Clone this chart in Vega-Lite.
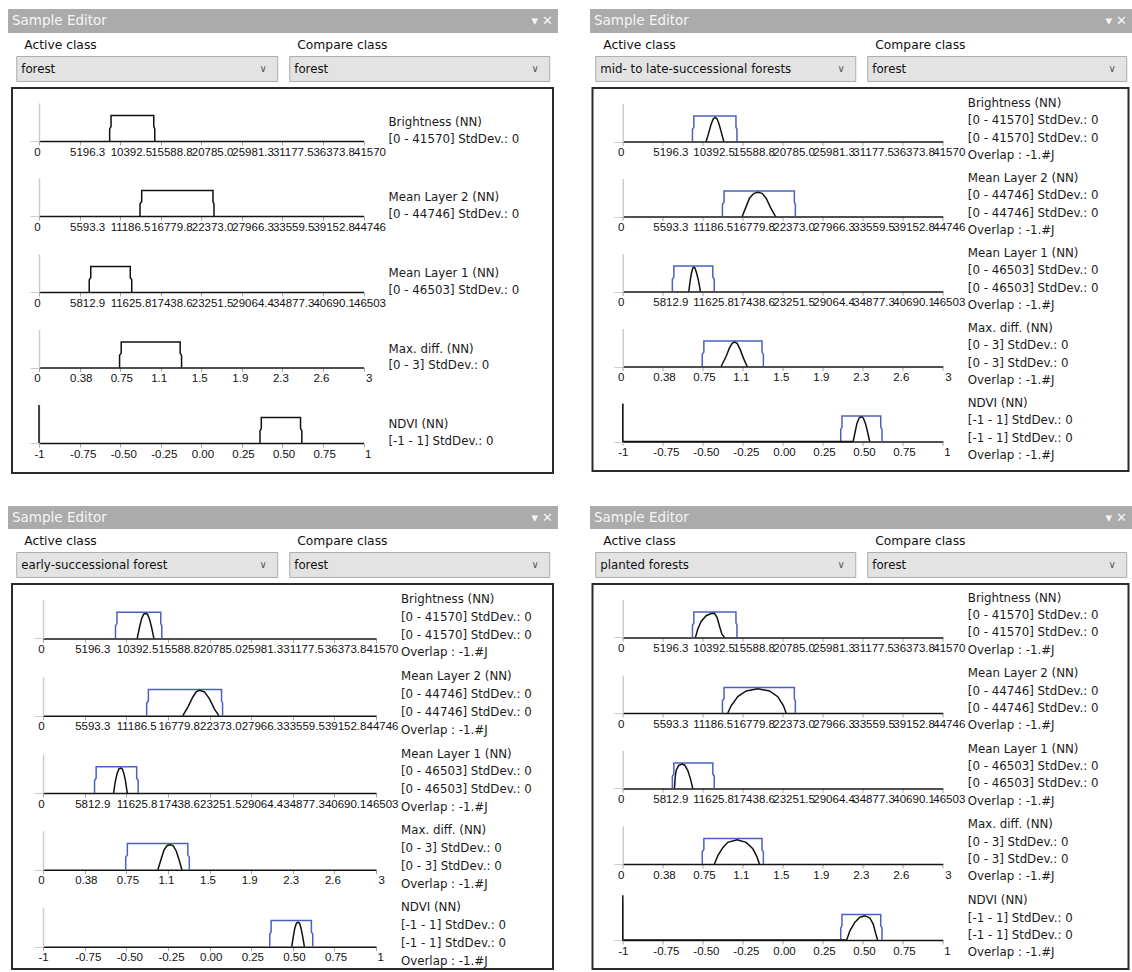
{
  "$schema": "https://vega.github.io/schema/vega-lite/v6.json",
  "background": "#ffffff",
  "padding": {"left": 8, "top": 9, "right": 0, "bottom": 0},
  "config": {
    "view": {"stroke": null},
    "font": "DejaVu Sans",
    "line": {"strokeWidth": 1.5, "strokeJoin": "miter"},
    "text": {"font": "DejaVu Sans", "align": "left", "baseline": "middle", "fontSize": 11.8, "fill": "#1a1a1a", "lineBreak": "\n"},
    "title": {"font": "DejaVu Sans", "fontSize": 12.3, "fontWeight": "normal", "color": "#111111", "anchor": "start", "offset": 5, "dx": 8},
    "axis": {"grid": false, "zindex": 1},
    "axisX": {"domainColor": "#141414", "domainWidth": 1.5, "tickColor": "#a8a8a8", "tickSize": 4, "tickWidth": 1, "labelFont": "Liberation Sans", "labelFontSize": 11.5, "labelColor": "#111111", "labelPadding": 1, "labelOverlap": false, "labelFlush": false, "labelBound": false, "labelBaseline": "top", "labelAlign": "left", "labelOffset": -10},
    "axisY": {"domainColor": "#cccccc", "domainWidth": 1.5, "tickColor": "#cccccc", "tickSize": 9, "tickWidth": 1, "labels": false}
  },
  "datasets": {
    "ui": [
      {"p": "A", "active": "forest", "compare": "forest"},
      {"p": "B", "active": "mid- to late-successional forests", "compare": "forest"},
      {"p": "C", "active": "early-successional forest", "compare": "forest"},
      {"p": "D", "active": "planted forests", "compare": "forest"}
    ],
    "forestRange": [
      {"f": "bright", "o": 0, "x": 9050, "y": 0}, {"f": "bright", "o": 1, "x": 9050, "y": 0.32}, {"f": "bright", "o": 2, "x": 9230, "y": 0.38}, {"f": "bright", "o": 3, "x": 9230, "y": 0.67},
      {"f": "bright", "o": 4, "x": 14700, "y": 0.67}, {"f": "bright", "o": 5, "x": 14700, "y": 0.38}, {"f": "bright", "o": 6, "x": 14830, "y": 0.32}, {"f": "bright", "o": 7, "x": 14830, "y": 0},
      {"f": "ml2", "o": 0, "x": 13930, "y": 0}, {"f": "ml2", "o": 1, "x": 13930, "y": 0.32}, {"f": "ml2", "o": 2, "x": 14160, "y": 0.38}, {"f": "ml2", "o": 3, "x": 14160, "y": 0.67},
      {"f": "ml2", "o": 4, "x": 23990, "y": 0.67}, {"f": "ml2", "o": 5, "x": 23990, "y": 0.38}, {"f": "ml2", "o": 6, "x": 24130, "y": 0.32}, {"f": "ml2", "o": 7, "x": 24130, "y": 0},
      {"f": "ml1", "o": 0, "x": 7200, "y": 0}, {"f": "ml1", "o": 1, "x": 7200, "y": 0.32}, {"f": "ml1", "o": 2, "x": 7420, "y": 0.38}, {"f": "ml1", "o": 3, "x": 7420, "y": 0.67},
      {"f": "ml1", "o": 4, "x": 13080, "y": 0.67}, {"f": "ml1", "o": 5, "x": 13080, "y": 0.38}, {"f": "ml1", "o": 6, "x": 13290, "y": 0.32}, {"f": "ml1", "o": 7, "x": 13290, "y": 0},
      {"f": "maxdiff", "o": 0, "x": 0.745, "y": 0}, {"f": "maxdiff", "o": 1, "x": 0.745, "y": 0.32}, {"f": "maxdiff", "o": 2, "x": 0.76, "y": 0.38}, {"f": "maxdiff", "o": 3, "x": 0.76, "y": 0.67},
      {"f": "maxdiff", "o": 4, "x": 1.305, "y": 0.67}, {"f": "maxdiff", "o": 5, "x": 1.305, "y": 0.38}, {"f": "maxdiff", "o": 6, "x": 1.318, "y": 0.32}, {"f": "maxdiff", "o": 7, "x": 1.318, "y": 0},
      {"f": "ndvi", "o": 0, "x": 0.362, "y": 0}, {"f": "ndvi", "o": 1, "x": 0.362, "y": 0.32}, {"f": "ndvi", "o": 2, "x": 0.37, "y": 0.38}, {"f": "ndvi", "o": 3, "x": 0.37, "y": 0.67},
      {"f": "ndvi", "o": 4, "x": 0.612, "y": 0.67}, {"f": "ndvi", "o": 5, "x": 0.612, "y": 0.38}, {"f": "ndvi", "o": 6, "x": 0.62, "y": 0.32}, {"f": "ndvi", "o": 7, "x": 0.62, "y": 0}
    ],
    "curves": [
      {"p": "A", "f": "ndvi", "o": 0, "x": -1, "y": 1}, {"p": "A", "f": "ndvi", "o": 1, "x": -1, "y": 0},

      {"p": "B", "f": "bright", "o": 0, "x": 10826, "y": 0}, {"p": "B", "f": "bright", "o": 1, "x": 11180, "y": 0.24}, {"p": "B", "f": "bright", "o": 2, "x": 11480, "y": 0.46},
      {"p": "B", "f": "bright", "o": 3, "x": 11760, "y": 0.6}, {"p": "B", "f": "bright", "o": 4, "x": 11995, "y": 0.635}, {"p": "B", "f": "bright", "o": 5, "x": 12230, "y": 0.6},
      {"p": "B", "f": "bright", "o": 6, "x": 12500, "y": 0.46}, {"p": "B", "f": "bright", "o": 7, "x": 12800, "y": 0.24}, {"p": "B", "f": "bright", "o": 8, "x": 13120, "y": 0},
      {"p": "B", "f": "ml2", "o": 0, "x": 16687, "y": 0}, {"p": "B", "f": "ml2", "o": 1, "x": 17246, "y": 0.26}, {"p": "B", "f": "ml2", "o": 2, "x": 17712, "y": 0.48},
      {"p": "B", "f": "ml2", "o": 3, "x": 18318, "y": 0.61}, {"p": "B", "f": "ml2", "o": 4, "x": 18877, "y": 0.635}, {"p": "B", "f": "ml2", "o": 5, "x": 19483, "y": 0.61},
      {"p": "B", "f": "ml2", "o": 6, "x": 20043, "y": 0.48}, {"p": "B", "f": "ml2", "o": 7, "x": 20649, "y": 0.24}, {"p": "B", "f": "ml2", "o": 8, "x": 21348, "y": 0},
      {"p": "B", "f": "ml1", "o": 0, "x": 9591, "y": 0}, {"p": "B", "f": "ml1", "o": 1, "x": 9800, "y": 0.3}, {"p": "B", "f": "ml1", "o": 2, "x": 10000, "y": 0.5},
      {"p": "B", "f": "ml1", "o": 3, "x": 10180, "y": 0.62}, {"p": "B", "f": "ml1", "o": 4, "x": 10318, "y": 0.64}, {"p": "B", "f": "ml1", "o": 5, "x": 10480, "y": 0.62},
      {"p": "B", "f": "ml1", "o": 6, "x": 10700, "y": 0.5}, {"p": "B", "f": "ml1", "o": 7, "x": 10980, "y": 0.3}, {"p": "B", "f": "ml1", "o": 8, "x": 11287, "y": 0},
      {"p": "B", "f": "maxdiff", "o": 0, "x": 0.922, "y": 0}, {"p": "B", "f": "maxdiff", "o": 1, "x": 0.969, "y": 0.27}, {"p": "B", "f": "maxdiff", "o": 2, "x": 1.0, "y": 0.49},
      {"p": "B", "f": "maxdiff", "o": 3, "x": 1.025, "y": 0.61}, {"p": "B", "f": "maxdiff", "o": 4, "x": 1.047, "y": 0.64}, {"p": "B", "f": "maxdiff", "o": 5, "x": 1.072, "y": 0.61},
      {"p": "B", "f": "maxdiff", "o": 6, "x": 1.1, "y": 0.45}, {"p": "B", "f": "maxdiff", "o": 7, "x": 1.131, "y": 0.22}, {"p": "B", "f": "maxdiff", "o": 8, "x": 1.166, "y": 0},
      {"p": "B", "f": "ndvi", "o": 0, "x": -1, "y": 1}, {"p": "B", "f": "ndvi", "o": 1, "x": -1, "y": 0}, {"p": "B", "f": "ndvi", "o": 2, "x": 0.44, "y": 0},
      {"p": "B", "f": "ndvi", "o": 3, "x": 0.452, "y": 0.25}, {"p": "B", "f": "ndvi", "o": 4, "x": 0.463, "y": 0.47}, {"p": "B", "f": "ndvi", "o": 5, "x": 0.477, "y": 0.62},
      {"p": "B", "f": "ndvi", "o": 6, "x": 0.49, "y": 0.65}, {"p": "B", "f": "ndvi", "o": 7, "x": 0.503, "y": 0.62}, {"p": "B", "f": "ndvi", "o": 8, "x": 0.517, "y": 0.47},
      {"p": "B", "f": "ndvi", "o": 9, "x": 0.53, "y": 0.25}, {"p": "B", "f": "ndvi", "o": 10, "x": 0.543, "y": 0},

      {"p": "C", "f": "bright", "o": 0, "x": 11764, "y": 0}, {"p": "C", "f": "bright", "o": 1, "x": 12040, "y": 0.28}, {"p": "C", "f": "bright", "o": 2, "x": 12300, "y": 0.5},
      {"p": "C", "f": "bright", "o": 3, "x": 12560, "y": 0.62}, {"p": "C", "f": "bright", "o": 4, "x": 12804, "y": 0.635}, {"p": "C", "f": "bright", "o": 5, "x": 13040, "y": 0.62},
      {"p": "C", "f": "bright", "o": 6, "x": 13290, "y": 0.5}, {"p": "C", "f": "bright", "o": 7, "x": 13560, "y": 0.28}, {"p": "C", "f": "bright", "o": 8, "x": 13843, "y": 0},
      {"p": "C", "f": "ml2", "o": 0, "x": 18793, "y": 0}, {"p": "C", "f": "ml2", "o": 1, "x": 19465, "y": 0.22}, {"p": "C", "f": "ml2", "o": 2, "x": 20136, "y": 0.48},
      {"p": "C", "f": "ml2", "o": 3, "x": 20583, "y": 0.61}, {"p": "C", "f": "ml2", "o": 4, "x": 21031, "y": 0.65}, {"p": "C", "f": "ml2", "o": 5, "x": 21702, "y": 0.61},
      {"p": "C", "f": "ml2", "o": 6, "x": 22373, "y": 0.43}, {"p": "C", "f": "ml2", "o": 7, "x": 23044, "y": 0.17}, {"p": "C", "f": "ml2", "o": 8, "x": 23626, "y": 0},
      {"p": "C", "f": "ml1", "o": 0, "x": 9859, "y": 0}, {"p": "C", "f": "ml1", "o": 1, "x": 10100, "y": 0.3}, {"p": "C", "f": "ml1", "o": 2, "x": 10350, "y": 0.5},
      {"p": "C", "f": "ml1", "o": 3, "x": 10620, "y": 0.62}, {"p": "C", "f": "ml1", "o": 4, "x": 10835, "y": 0.64}, {"p": "C", "f": "ml1", "o": 5, "x": 11060, "y": 0.62},
      {"p": "C", "f": "ml1", "o": 6, "x": 11300, "y": 0.5}, {"p": "C", "f": "ml1", "o": 7, "x": 11530, "y": 0.3}, {"p": "C", "f": "ml1", "o": 8, "x": 11765, "y": 0},
      {"p": "C", "f": "maxdiff", "o": 0, "x": 1.035, "y": 0}, {"p": "C", "f": "maxdiff", "o": 1, "x": 1.065, "y": 0.28}, {"p": "C", "f": "maxdiff", "o": 2, "x": 1.09, "y": 0.5},
      {"p": "C", "f": "maxdiff", "o": 3, "x": 1.118, "y": 0.62}, {"p": "C", "f": "maxdiff", "o": 4, "x": 1.146, "y": 0.64}, {"p": "C", "f": "maxdiff", "o": 5, "x": 1.172, "y": 0.62},
      {"p": "C", "f": "maxdiff", "o": 6, "x": 1.2, "y": 0.48}, {"p": "C", "f": "maxdiff", "o": 7, "x": 1.225, "y": 0.26}, {"p": "C", "f": "maxdiff", "o": 8, "x": 1.251, "y": 0},
      {"p": "C", "f": "ndvi", "o": 0, "x": 0.494, "y": 0}, {"p": "C", "f": "ndvi", "o": 1, "x": 0.503, "y": 0.25}, {"p": "C", "f": "ndvi", "o": 2, "x": 0.512, "y": 0.47},
      {"p": "C", "f": "ndvi", "o": 3, "x": 0.522, "y": 0.6}, {"p": "C", "f": "ndvi", "o": 4, "x": 0.532, "y": 0.63}, {"p": "C", "f": "ndvi", "o": 5, "x": 0.541, "y": 0.6},
      {"p": "C", "f": "ndvi", "o": 6, "x": 0.55, "y": 0.47}, {"p": "C", "f": "ndvi", "o": 7, "x": 0.56, "y": 0.25}, {"p": "C", "f": "ndvi", "o": 8, "x": 0.57, "y": 0},

      {"p": "D", "f": "bright", "o": 0, "x": 9440, "y": 0}, {"p": "D", "f": "bright", "o": 1, "x": 9743, "y": 0.22}, {"p": "D", "f": "bright", "o": 2, "x": 10176, "y": 0.42},
      {"p": "D", "f": "bright", "o": 3, "x": 10826, "y": 0.57}, {"p": "D", "f": "bright", "o": 4, "x": 11475, "y": 0.63}, {"p": "D", "f": "bright", "o": 5, "x": 11908, "y": 0.635},
      {"p": "D", "f": "bright", "o": 6, "x": 12255, "y": 0.52}, {"p": "D", "f": "bright", "o": 7, "x": 12557, "y": 0.3}, {"p": "D", "f": "bright", "o": 8, "x": 12861, "y": 0.09},
      {"p": "D", "f": "bright", "o": 9, "x": 13207, "y": 0},
      {"p": "D", "f": "ml2", "o": 0, "x": 14683, "y": 0}, {"p": "D", "f": "ml2", "o": 1, "x": 15149, "y": 0.19}, {"p": "D", "f": "ml2", "o": 2, "x": 16081, "y": 0.43},
      {"p": "D", "f": "ml2", "o": 3, "x": 17246, "y": 0.58}, {"p": "D", "f": "ml2", "o": 4, "x": 18877, "y": 0.64}, {"p": "D", "f": "ml2", "o": 5, "x": 20509, "y": 0.58},
      {"p": "D", "f": "ml2", "o": 6, "x": 21674, "y": 0.43}, {"p": "D", "f": "ml2", "o": 7, "x": 22467, "y": 0.19}, {"p": "D", "f": "ml2", "o": 8, "x": 22839, "y": 0},
      {"p": "D", "f": "ml1", "o": 0, "x": 7508, "y": 0}, {"p": "D", "f": "ml1", "o": 1, "x": 7620, "y": 0.3}, {"p": "D", "f": "ml1", "o": 2, "x": 7750, "y": 0.47},
      {"p": "D", "f": "ml1", "o": 3, "x": 8100, "y": 0.6}, {"p": "D", "f": "ml1", "o": 4, "x": 8600, "y": 0.64}, {"p": "D", "f": "ml1", "o": 5, "x": 9000, "y": 0.61},
      {"p": "D", "f": "ml1", "o": 6, "x": 9445, "y": 0.47}, {"p": "D", "f": "ml1", "o": 7, "x": 9800, "y": 0.27}, {"p": "D", "f": "ml1", "o": 8, "x": 10173, "y": 0},
      {"p": "D", "f": "maxdiff", "o": 0, "x": 0.859, "y": 0}, {"p": "D", "f": "maxdiff", "o": 1, "x": 0.891, "y": 0.22}, {"p": "D", "f": "maxdiff", "o": 2, "x": 0.9375, "y": 0.43},
      {"p": "D", "f": "maxdiff", "o": 3, "x": 0.984, "y": 0.57}, {"p": "D", "f": "maxdiff", "o": 4, "x": 1.072, "y": 0.64}, {"p": "D", "f": "maxdiff", "o": 5, "x": 1.156, "y": 0.57},
      {"p": "D", "f": "maxdiff", "o": 6, "x": 1.219, "y": 0.4}, {"p": "D", "f": "maxdiff", "o": 7, "x": 1.256, "y": 0.2}, {"p": "D", "f": "maxdiff", "o": 8, "x": 1.281, "y": 0},
      {"p": "D", "f": "ndvi", "o": 0, "x": -1, "y": 1.18}, {"p": "D", "f": "ndvi", "o": 1, "x": -1, "y": 0}, {"p": "D", "f": "ndvi", "o": 2, "x": 0.399, "y": 0},
      {"p": "D", "f": "ndvi", "o": 3, "x": 0.42, "y": 0.25}, {"p": "D", "f": "ndvi", "o": 4, "x": 0.451, "y": 0.47}, {"p": "D", "f": "ndvi", "o": 5, "x": 0.482, "y": 0.6},
      {"p": "D", "f": "ndvi", "o": 6, "x": 0.513, "y": 0.64}, {"p": "D", "f": "ndvi", "o": 7, "x": 0.544, "y": 0.58}, {"p": "D", "f": "ndvi", "o": 8, "x": 0.565, "y": 0.42},
      {"p": "D", "f": "ndvi", "o": 9, "x": 0.579, "y": 0.2}, {"p": "D", "f": "ndvi", "o": 10, "x": 0.592, "y": 0}
    ],
    "info": [
      {"p": "A", "f": "bright", "t": "Brightness (NN)\n[0 - 41570] StdDev.: 0"},
      {"p": "A", "f": "ml2", "t": "Mean Layer 2 (NN)\n[0 - 44746] StdDev.: 0"},
      {"p": "A", "f": "ml1", "t": "Mean Layer 1 (NN)\n[0 - 46503] StdDev.: 0"},
      {"p": "A", "f": "maxdiff", "t": "Max. diff. (NN)\n[0 - 3] StdDev.: 0"},
      {"p": "A", "f": "ndvi", "t": "NDVI (NN)\n[-1 - 1] StdDev.: 0"},
      {"p": "B", "f": "bright", "t": "Brightness (NN)\n[0 - 41570] StdDev.: 0\n[0 - 41570] StdDev.: 0\nOverlap : -1.#J"},
      {"p": "B", "f": "ml2", "t": "Mean Layer 2 (NN)\n[0 - 44746] StdDev.: 0\n[0 - 44746] StdDev.: 0\nOverlap : -1.#J"},
      {"p": "B", "f": "ml1", "t": "Mean Layer 1 (NN)\n[0 - 46503] StdDev.: 0\n[0 - 46503] StdDev.: 0\nOverlap : -1.#J"},
      {"p": "B", "f": "maxdiff", "t": "Max. diff. (NN)\n[0 - 3] StdDev.: 0\n[0 - 3] StdDev.: 0\nOverlap : -1.#J"},
      {"p": "B", "f": "ndvi", "t": "NDVI (NN)\n[-1 - 1] StdDev.: 0\n[-1 - 1] StdDev.: 0\nOverlap : -1.#J"},
      {"p": "C", "f": "bright", "t": "Brightness (NN)\n[0 - 41570] StdDev.: 0\n[0 - 41570] StdDev.: 0\nOverlap : -1.#J"},
      {"p": "C", "f": "ml2", "t": "Mean Layer 2 (NN)\n[0 - 44746] StdDev.: 0\n[0 - 44746] StdDev.: 0\nOverlap : -1.#J"},
      {"p": "C", "f": "ml1", "t": "Mean Layer 1 (NN)\n[0 - 46503] StdDev.: 0\n[0 - 46503] StdDev.: 0\nOverlap : -1.#J"},
      {"p": "C", "f": "maxdiff", "t": "Max. diff. (NN)\n[0 - 3] StdDev.: 0\n[0 - 3] StdDev.: 0\nOverlap : -1.#J"},
      {"p": "C", "f": "ndvi", "t": "NDVI (NN)\n[-1 - 1] StdDev.: 0\n[-1 - 1] StdDev.: 0\nOverlap : -1.#J"},
      {"p": "D", "f": "bright", "t": "Brightness (NN)\n[0 - 41570] StdDev.: 0\n[0 - 41570] StdDev.: 0\nOverlap : -1.#J"},
      {"p": "D", "f": "ml2", "t": "Mean Layer 2 (NN)\n[0 - 44746] StdDev.: 0\n[0 - 44746] StdDev.: 0\nOverlap : -1.#J"},
      {"p": "D", "f": "ml1", "t": "Mean Layer 1 (NN)\n[0 - 46503] StdDev.: 0\n[0 - 46503] StdDev.: 0\nOverlap : -1.#J"},
      {"p": "D", "f": "maxdiff", "t": "Max. diff. (NN)\n[0 - 3] StdDev.: 0\n[0 - 3] StdDev.: 0\nOverlap : -1.#J"},
      {"p": "D", "f": "ndvi", "t": "NDVI (NN)\n[-1 - 1] StdDev.: 0\n[-1 - 1] StdDev.: 0\nOverlap : -1.#J"}
    ]
  },
  "spacing": 32,
  "vconcat": [
    {
      "spacing": 32,
      "hconcat": [
        {
          "spacing": 5,
          "center": true,
          "vconcat": [
            {
              "width": 550, "height": 24,
              "view": {"fill": "#ababab", "stroke": null},
              "data": {"name": "ui"},
              "transform": [{"filter": "datum.p == 'A'"}],
              "layer": [
                {"mark": {"type": "text", "text": "Sample Editor", "x": 4, "y": 12, "fontSize": 13.5, "fill": "#f5f5f5"}, "encoding": {}},
                {"mark": {"type": "text", "text": "▾   ✕", "x": "width", "dx": -5, "y": 12, "align": "right", "fontSize": 13, "fill": "#f5f5f5"}, "encoding": {}}
              ]
            },
            {
              "spacing": 10,
              "hconcat": [
                {
                  "width": 261, "height": 25,
                  "view": {"fill": "#e3e3e3", "stroke": "#adadad"},
                  "title": {"text": "Active class"},
                  "data": {"name": "ui"},
                  "transform": [{"filter": "datum.p == 'A'"}],
                  "layer": [
                    {"mark": {"type": "text", "x": 5, "y": 12.5, "fontSize": 11.8, "fill": "#111111"}, "encoding": {"text": {"field": "active"}}},
                    {"mark": {"type": "text", "text": "∨", "x": "width", "dx": -14, "y": 12.5, "align": "center", "fontSize": 10, "fill": "#555555"}, "encoding": {}}
                  ]
                },
                {
                  "width": 260, "height": 25,
                  "view": {"fill": "#e3e3e3", "stroke": "#adadad"},
                  "title": {"text": "Compare class"},
                  "data": {"name": "ui"},
                  "transform": [{"filter": "datum.p == 'A'"}],
                  "layer": [
                    {"mark": {"type": "text", "x": 5, "y": 12.5, "fontSize": 11.8, "fill": "#111111"}, "encoding": {"text": {"field": "compare"}}},
                    {"mark": {"type": "text", "text": "∨", "x": "width", "dx": -14, "y": 12.5, "align": "center", "fontSize": 10, "fill": "#555555"}, "encoding": {}}
                  ]
                }
              ]
            },
            {
              "width": 541, "height": 385,
              "view": {"fill": "#ffffff", "stroke": "#2b2b2b", "strokeWidth": 2},
              "resolve": {"scale": {"x": "independent", "y": "independent"}, "axis": {"x": "independent", "y": "independent"}},
              "layer": [
                {"data": {"name": "forestRange"}, "transform": [{"filter": "datum.f == 'bright'"}], "mark": {"type": "line", "stroke": "#111111"},
                 "encoding": {
                   "x": {"field": "x", "type": "quantitative", "scale": {"domain": [0, 41570], "range": [27, 351.5], "nice": false},
                         "axis": {"orient": "bottom", "offset": -332, "title": null, "values": [0, 5196.25, 10392.5, 15588.75, 20785, 25981.25, 31177.5, 36373.75, 41570], "labelExpr": "datum.value == 0 || datum.value == 41570 ? format(datum.value, 'd') : format(datum.value, '.1f')", "labelAlign": {"condition": {"test": "datum.value == 0", "value": "center"}, "value": "left"}, "labelOffset": {"condition": {"test": "datum.value == 0", "value": -2}, "value": -10}}},
                   "y": {"field": "y", "type": "quantitative", "scale": {"domain": [0, 1], "range": [53, 15], "nice": false}, "axis": {"orient": "left", "offset": -27, "title": null, "values": [0]}},
                   "order": {"field": "o", "type": "quantitative"}}},
                {"data": {"name": "info"}, "transform": [{"filter": "datum.p == 'A' && datum.f == 'bright'"}], "mark": {"type": "text", "dx": 25, "lineHeight": 16.7},
                 "encoding": {"x": {"datum": 41570, "type": "quantitative", "scale": {"domain": [0, 41570], "range": [27, 351.5], "nice": false}, "axis": null}, "y": {"datum": 0.5, "type": "quantitative", "scale": {"domain": [0, 1], "range": [53, 15], "nice": false}, "axis": null}, "text": {"field": "t"}}},

                {"data": {"name": "forestRange"}, "transform": [{"filter": "datum.f == 'ml2'"}], "mark": {"type": "line", "stroke": "#111111"},
                 "encoding": {
                   "x": {"field": "x", "type": "quantitative", "scale": {"domain": [0, 44746], "range": [27, 351.5], "nice": false},
                         "axis": {"orient": "bottom", "offset": -257, "title": null, "values": [0, 5593.25, 11186.5, 16779.75, 22373, 27966.25, 33559.5, 39152.75, 44746], "labelExpr": "datum.value == 0 || datum.value == 44746 ? format(datum.value, 'd') : format(datum.value, '.1f')", "labelAlign": {"condition": {"test": "datum.value == 0", "value": "center"}, "value": "left"}, "labelOffset": {"condition": {"test": "datum.value == 0", "value": -2}, "value": -10}}},
                   "y": {"field": "y", "type": "quantitative", "scale": {"domain": [0, 1], "range": [128, 90], "nice": false}, "axis": {"orient": "left", "offset": -27, "title": null, "values": [0]}},
                   "order": {"field": "o", "type": "quantitative"}}},
                {"data": {"name": "info"}, "transform": [{"filter": "datum.p == 'A' && datum.f == 'ml2'"}], "mark": {"type": "text", "dx": 25, "lineHeight": 16.7},
                 "encoding": {"x": {"datum": 44746, "type": "quantitative", "scale": {"domain": [0, 44746], "range": [27, 351.5], "nice": false}, "axis": null}, "y": {"datum": 0.5, "type": "quantitative", "scale": {"domain": [0, 1], "range": [128, 90], "nice": false}, "axis": null}, "text": {"field": "t"}}},

                {"data": {"name": "forestRange"}, "transform": [{"filter": "datum.f == 'ml1'"}], "mark": {"type": "line", "stroke": "#111111"},
                 "encoding": {
                   "x": {"field": "x", "type": "quantitative", "scale": {"domain": [0, 46503], "range": [27, 351.5], "nice": false},
                         "axis": {"orient": "bottom", "offset": -181, "title": null, "values": [0, 5812.875, 11625.75, 17438.625, 23251.5, 29064.375, 34877.25, 40690.125, 46503], "labelExpr": "datum.value == 0 || datum.value == 46503 ? format(datum.value, 'd') : format(datum.value, '.1f')", "labelAlign": {"condition": {"test": "datum.value == 0", "value": "center"}, "value": "left"}, "labelOffset": {"condition": {"test": "datum.value == 0", "value": -2}, "value": -10}}},
                   "y": {"field": "y", "type": "quantitative", "scale": {"domain": [0, 1], "range": [204, 166], "nice": false}, "axis": {"orient": "left", "offset": -27, "title": null, "values": [0]}},
                   "order": {"field": "o", "type": "quantitative"}}},
                {"data": {"name": "info"}, "transform": [{"filter": "datum.p == 'A' && datum.f == 'ml1'"}], "mark": {"type": "text", "dx": 25, "lineHeight": 16.7},
                 "encoding": {"x": {"datum": 46503, "type": "quantitative", "scale": {"domain": [0, 46503], "range": [27, 351.5], "nice": false}, "axis": null}, "y": {"datum": 0.5, "type": "quantitative", "scale": {"domain": [0, 1], "range": [204, 166], "nice": false}, "axis": null}, "text": {"field": "t"}}},

                {"data": {"name": "forestRange"}, "transform": [{"filter": "datum.f == 'maxdiff'"}], "mark": {"type": "line", "stroke": "#111111"},
                 "encoding": {
                   "x": {"field": "x", "type": "quantitative", "scale": {"domain": [0, 3], "range": [27, 351.5], "nice": false},
                         "axis": {"orient": "bottom", "offset": -105.5, "title": null, "values": [0, 0.375, 0.75, 1.125, 1.5, 1.875, 2.25, 2.625, 3], "labelExpr": "datum.value == 0 || datum.value == 3 ? format(datum.value, 'd') : format(datum.value, '.2')", "labelAlign": {"condition": {"test": "datum.value == 0", "value": "center"}, "value": "left"}, "labelOffset": {"condition": [{"test": "datum.value == 0", "value": -2}, {"test": "datum.value == 3", "value": 2}], "value": -10}}},
                   "y": {"field": "y", "type": "quantitative", "scale": {"domain": [0, 1], "range": [279.5, 241.5], "nice": false}, "axis": {"orient": "left", "offset": -27, "title": null, "values": [0]}},
                   "order": {"field": "o", "type": "quantitative"}}},
                {"data": {"name": "info"}, "transform": [{"filter": "datum.p == 'A' && datum.f == 'maxdiff'"}], "mark": {"type": "text", "dx": 25, "lineHeight": 16.7},
                 "encoding": {"x": {"datum": 3, "type": "quantitative", "scale": {"domain": [0, 3], "range": [27, 351.5], "nice": false}, "axis": null}, "y": {"datum": 0.5, "type": "quantitative", "scale": {"domain": [0, 1], "range": [279.5, 241.5], "nice": false}, "axis": null}, "text": {"field": "t"}}},

                {"data": {"name": "forestRange"}, "transform": [{"filter": "datum.f == 'ndvi'"}], "mark": {"type": "line", "stroke": "#111111"},
                 "encoding": {
                   "x": {"field": "x", "type": "quantitative", "scale": {"domain": [-1, 1], "range": [27, 351.5], "nice": false},
                         "axis": {"orient": "bottom", "offset": -30, "title": null, "values": [-1, -0.75, -0.5, -0.25, 0, 0.25, 0.5, 0.75, 1], "labelExpr": "datum.value == -1 ? '-1' : datum.value == 1 ? '1' : replace(format(datum.value, '.2f'), '\u2212', '-')", "labelAlign": {"condition": {"test": "datum.value == -1", "value": "center"}, "value": "left"}, "labelOffset": {"condition": [{"test": "datum.value == -1", "value": 0}, {"test": "datum.value == 1", "value": 1}], "value": -10}}},
                   "y": {"field": "y", "type": "quantitative", "scale": {"domain": [0, 1], "range": [355, 317], "nice": false}, "axis": {"orient": "left", "offset": -27, "title": null, "values": [0]}},
                   "order": {"field": "o", "type": "quantitative"}}},
                {"data": {"name": "curves"}, "transform": [{"filter": "datum.p == 'A' && datum.f == 'ndvi'"}], "mark": {"type": "line", "stroke": "#111111"},
                 "encoding": {"x": {"field": "x", "type": "quantitative", "scale": {"domain": [-1, 1], "range": [27, 351.5], "nice": false}, "axis": null}, "y": {"field": "y", "type": "quantitative", "scale": {"domain": [0, 1], "range": [355, 317], "nice": false}, "axis": null}, "order": {"field": "o", "type": "quantitative"}}},
                {"data": {"name": "info"}, "transform": [{"filter": "datum.p == 'A' && datum.f == 'ndvi'"}], "mark": {"type": "text", "dx": 25, "lineHeight": 16.7},
                 "encoding": {"x": {"datum": 1, "type": "quantitative", "scale": {"domain": [-1, 1], "range": [27, 351.5], "nice": false}, "axis": null}, "y": {"datum": 0.5, "type": "quantitative", "scale": {"domain": [0, 1], "range": [355, 317], "nice": false}, "axis": null}, "text": {"field": "t"}}}
              ]
            }
          ]
        },
        {
          "spacing": 5,
          "center": true,
          "vconcat": [
            {
              "width": 542, "height": 24,
              "view": {"fill": "#ababab", "stroke": null},
              "data": {"name": "ui"},
              "transform": [{"filter": "datum.p == 'B'"}],
              "layer": [
                {"mark": {"type": "text", "text": "Sample Editor", "x": 4, "y": 12, "fontSize": 13.5, "fill": "#f5f5f5"}, "encoding": {}},
                {"mark": {"type": "text", "text": "▾   ✕", "x": "width", "dx": -5, "y": 12, "align": "right", "fontSize": 13, "fill": "#f5f5f5"}, "encoding": {}}
              ]
            },
            {
              "spacing": 10,
              "hconcat": [
                {
                  "width": 260, "height": 25,
                  "view": {"fill": "#e3e3e3", "stroke": "#adadad"},
                  "title": {"text": "Active class"},
                  "data": {"name": "ui"},
                  "transform": [{"filter": "datum.p == 'B'"}],
                  "layer": [
                    {"mark": {"type": "text", "x": 5, "y": 12.5, "fontSize": 11.8, "fill": "#111111"}, "encoding": {"text": {"field": "active"}}},
                    {"mark": {"type": "text", "text": "∨", "x": "width", "dx": -14, "y": 12.5, "align": "center", "fontSize": 10, "fill": "#555555"}, "encoding": {}}
                  ]
                },
                {
                  "width": 259, "height": 25,
                  "view": {"fill": "#e3e3e3", "stroke": "#adadad"},
                  "title": {"text": "Compare class"},
                  "data": {"name": "ui"},
                  "transform": [{"filter": "datum.p == 'B'"}],
                  "layer": [
                    {"mark": {"type": "text", "x": 5, "y": 12.5, "fontSize": 11.8, "fill": "#111111"}, "encoding": {"text": {"field": "compare"}}},
                    {"mark": {"type": "text", "text": "∨", "x": "width", "dx": -14, "y": 12.5, "align": "center", "fontSize": 10, "fill": "#555555"}, "encoding": {}}
                  ]
                }
              ]
            },
            {
              "width": 536, "height": 383,
              "view": {"fill": "#ffffff", "stroke": "#2b2b2b", "strokeWidth": 2},
              "resolve": {"scale": {"x": "independent", "y": "independent"}, "axis": {"x": "independent", "y": "independent"}},
              "layer": [
                {"data": {"name": "forestRange"}, "transform": [{"filter": "datum.f == 'bright'"}], "mark": {"type": "line", "stroke": "#4b60c2"},
                 "encoding": {
                   "x": {"field": "x", "type": "quantitative", "scale": {"domain": [0, 41570], "range": [30.3, 350.3], "nice": false},
                         "axis": {"orient": "bottom", "offset": -329.5, "title": null, "values": [0, 5196.25, 10392.5, 15588.75, 20785, 25981.25, 31177.5, 36373.75, 41570], "labelExpr": "datum.value == 0 || datum.value == 41570 ? format(datum.value, 'd') : format(datum.value, '.1f')", "labelAlign": {"condition": {"test": "datum.value == 0", "value": "center"}, "value": "left"}, "labelOffset": {"condition": {"test": "datum.value == 0", "value": -2}, "value": -10}}},
                   "y": {"field": "y", "type": "quantitative", "scale": {"domain": [0, 1], "range": [53.5, 15.5], "nice": false}, "axis": {"orient": "left", "offset": -30.3, "title": null, "values": [0]}},
                   "order": {"field": "o", "type": "quantitative"}}},
                {"data": {"name": "curves"}, "transform": [{"filter": "datum.p == 'B' && datum.f == 'bright'"}], "mark": {"type": "line", "stroke": "#111111"},
                 "encoding": {"x": {"field": "x", "type": "quantitative", "scale": {"domain": [0, 41570], "range": [30.3, 350.3], "nice": false}, "axis": null}, "y": {"field": "y", "type": "quantitative", "scale": {"domain": [0, 1], "range": [53.5, 15.5], "nice": false}, "axis": null}, "order": {"field": "o", "type": "quantitative"}}},
                {"data": {"name": "info"}, "transform": [{"filter": "datum.p == 'B' && datum.f == 'bright'"}], "mark": {"type": "text", "dx": 25, "lineHeight": 17.3},
                 "encoding": {"x": {"datum": 41570, "type": "quantitative", "scale": {"domain": [0, 41570], "range": [30.3, 350.3], "nice": false}, "axis": null}, "y": {"datum": 1.01, "type": "quantitative", "scale": {"domain": [0, 1], "range": [53.5, 15.5], "nice": false}, "axis": null}, "text": {"field": "t"}}},

                {"data": {"name": "forestRange"}, "transform": [{"filter": "datum.f == 'ml2'"}], "mark": {"type": "line", "stroke": "#4b60c2"},
                 "encoding": {
                   "x": {"field": "x", "type": "quantitative", "scale": {"domain": [0, 44746], "range": [30.3, 350.3], "nice": false},
                         "axis": {"orient": "bottom", "offset": -254.5, "title": null, "values": [0, 5593.25, 11186.5, 16779.75, 22373, 27966.25, 33559.5, 39152.75, 44746], "labelExpr": "datum.value == 0 || datum.value == 44746 ? format(datum.value, 'd') : format(datum.value, '.1f')", "labelAlign": {"condition": {"test": "datum.value == 0", "value": "center"}, "value": "left"}, "labelOffset": {"condition": {"test": "datum.value == 0", "value": -2}, "value": -10}}},
                   "y": {"field": "y", "type": "quantitative", "scale": {"domain": [0, 1], "range": [128.5, 90.5], "nice": false}, "axis": {"orient": "left", "offset": -30.3, "title": null, "values": [0]}},
                   "order": {"field": "o", "type": "quantitative"}}},
                {"data": {"name": "curves"}, "transform": [{"filter": "datum.p == 'B' && datum.f == 'ml2'"}], "mark": {"type": "line", "stroke": "#111111"},
                 "encoding": {"x": {"field": "x", "type": "quantitative", "scale": {"domain": [0, 44746], "range": [30.3, 350.3], "nice": false}, "axis": null}, "y": {"field": "y", "type": "quantitative", "scale": {"domain": [0, 1], "range": [128.5, 90.5], "nice": false}, "axis": null}, "order": {"field": "o", "type": "quantitative"}}},
                {"data": {"name": "info"}, "transform": [{"filter": "datum.p == 'B' && datum.f == 'ml2'"}], "mark": {"type": "text", "dx": 25, "lineHeight": 17.3},
                 "encoding": {"x": {"datum": 44746, "type": "quantitative", "scale": {"domain": [0, 44746], "range": [30.3, 350.3], "nice": false}, "axis": null}, "y": {"datum": 1.01, "type": "quantitative", "scale": {"domain": [0, 1], "range": [128.5, 90.5], "nice": false}, "axis": null}, "text": {"field": "t"}}},

                {"data": {"name": "forestRange"}, "transform": [{"filter": "datum.f == 'ml1'"}], "mark": {"type": "line", "stroke": "#4b60c2"},
                 "encoding": {
                   "x": {"field": "x", "type": "quantitative", "scale": {"domain": [0, 46503], "range": [30.3, 350.3], "nice": false},
                         "axis": {"orient": "bottom", "offset": -179.5, "title": null, "values": [0, 5812.875, 11625.75, 17438.625, 23251.5, 29064.375, 34877.25, 40690.125, 46503], "labelExpr": "datum.value == 0 || datum.value == 46503 ? format(datum.value, 'd') : format(datum.value, '.1f')", "labelAlign": {"condition": {"test": "datum.value == 0", "value": "center"}, "value": "left"}, "labelOffset": {"condition": {"test": "datum.value == 0", "value": -2}, "value": -10}}},
                   "y": {"field": "y", "type": "quantitative", "scale": {"domain": [0, 1], "range": [203.5, 165.5], "nice": false}, "axis": {"orient": "left", "offset": -30.3, "title": null, "values": [0]}},
                   "order": {"field": "o", "type": "quantitative"}}},
                {"data": {"name": "curves"}, "transform": [{"filter": "datum.p == 'B' && datum.f == 'ml1'"}], "mark": {"type": "line", "stroke": "#111111"},
                 "encoding": {"x": {"field": "x", "type": "quantitative", "scale": {"domain": [0, 46503], "range": [30.3, 350.3], "nice": false}, "axis": null}, "y": {"field": "y", "type": "quantitative", "scale": {"domain": [0, 1], "range": [203.5, 165.5], "nice": false}, "axis": null}, "order": {"field": "o", "type": "quantitative"}}},
                {"data": {"name": "info"}, "transform": [{"filter": "datum.p == 'B' && datum.f == 'ml1'"}], "mark": {"type": "text", "dx": 25, "lineHeight": 17.3},
                 "encoding": {"x": {"datum": 46503, "type": "quantitative", "scale": {"domain": [0, 46503], "range": [30.3, 350.3], "nice": false}, "axis": null}, "y": {"datum": 1.01, "type": "quantitative", "scale": {"domain": [0, 1], "range": [203.5, 165.5], "nice": false}, "axis": null}, "text": {"field": "t"}}},

                {"data": {"name": "forestRange"}, "transform": [{"filter": "datum.f == 'maxdiff'"}], "mark": {"type": "line", "stroke": "#4b60c2"},
                 "encoding": {
                   "x": {"field": "x", "type": "quantitative", "scale": {"domain": [0, 3], "range": [30.3, 350.3], "nice": false},
                         "axis": {"orient": "bottom", "offset": -104.5, "title": null, "values": [0, 0.375, 0.75, 1.125, 1.5, 1.875, 2.25, 2.625, 3], "labelExpr": "datum.value == 0 || datum.value == 3 ? format(datum.value, 'd') : format(datum.value, '.2')", "labelAlign": {"condition": {"test": "datum.value == 0", "value": "center"}, "value": "left"}, "labelOffset": {"condition": [{"test": "datum.value == 0", "value": -2}, {"test": "datum.value == 3", "value": 2}], "value": -10}}},
                   "y": {"field": "y", "type": "quantitative", "scale": {"domain": [0, 1], "range": [278.5, 240.5], "nice": false}, "axis": {"orient": "left", "offset": -30.3, "title": null, "values": [0]}},
                   "order": {"field": "o", "type": "quantitative"}}},
                {"data": {"name": "curves"}, "transform": [{"filter": "datum.p == 'B' && datum.f == 'maxdiff'"}], "mark": {"type": "line", "stroke": "#111111"},
                 "encoding": {"x": {"field": "x", "type": "quantitative", "scale": {"domain": [0, 3], "range": [30.3, 350.3], "nice": false}, "axis": null}, "y": {"field": "y", "type": "quantitative", "scale": {"domain": [0, 1], "range": [278.5, 240.5], "nice": false}, "axis": null}, "order": {"field": "o", "type": "quantitative"}}},
                {"data": {"name": "info"}, "transform": [{"filter": "datum.p == 'B' && datum.f == 'maxdiff'"}], "mark": {"type": "text", "dx": 25, "lineHeight": 17.3},
                 "encoding": {"x": {"datum": 3, "type": "quantitative", "scale": {"domain": [0, 3], "range": [30.3, 350.3], "nice": false}, "axis": null}, "y": {"datum": 1.01, "type": "quantitative", "scale": {"domain": [0, 1], "range": [278.5, 240.5], "nice": false}, "axis": null}, "text": {"field": "t"}}},

                {"data": {"name": "forestRange"}, "transform": [{"filter": "datum.f == 'ndvi'"}], "mark": {"type": "line", "stroke": "#4b60c2"},
                 "encoding": {
                   "x": {"field": "x", "type": "quantitative", "scale": {"domain": [-1, 1], "range": [30.3, 350.3], "nice": false},
                         "axis": {"orient": "bottom", "offset": -29.5, "title": null, "values": [-1, -0.75, -0.5, -0.25, 0, 0.25, 0.5, 0.75, 1], "labelExpr": "datum.value == -1 ? '-1' : datum.value == 1 ? '1' : replace(format(datum.value, '.2f'), '\u2212', '-')", "labelAlign": {"condition": {"test": "datum.value == -1", "value": "center"}, "value": "left"}, "labelOffset": {"condition": [{"test": "datum.value == -1", "value": 0}, {"test": "datum.value == 1", "value": 1}], "value": -10}}},
                   "y": {"field": "y", "type": "quantitative", "scale": {"domain": [0, 1], "range": [353.5, 315.5], "nice": false}, "axis": {"orient": "left", "offset": -30.3, "title": null, "values": [0]}},
                   "order": {"field": "o", "type": "quantitative"}}},
                {"data": {"name": "curves"}, "transform": [{"filter": "datum.p == 'B' && datum.f == 'ndvi'"}], "mark": {"type": "line", "stroke": "#111111"},
                 "encoding": {"x": {"field": "x", "type": "quantitative", "scale": {"domain": [-1, 1], "range": [30.3, 350.3], "nice": false}, "axis": null}, "y": {"field": "y", "type": "quantitative", "scale": {"domain": [0, 1], "range": [353.5, 315.5], "nice": false}, "axis": null}, "order": {"field": "o", "type": "quantitative"}}},
                {"data": {"name": "info"}, "transform": [{"filter": "datum.p == 'B' && datum.f == 'ndvi'"}], "mark": {"type": "text", "dx": 25, "lineHeight": 17.3},
                 "encoding": {"x": {"datum": 1, "type": "quantitative", "scale": {"domain": [-1, 1], "range": [30.3, 350.3], "nice": false}, "axis": null}, "y": {"datum": 1.01, "type": "quantitative", "scale": {"domain": [0, 1], "range": [353.5, 315.5], "nice": false}, "axis": null}, "text": {"field": "t"}}}
              ]
            }
          ]
        }
      ]
    },
    {
      "spacing": 32,
      "hconcat": [
        {
          "spacing": 5,
          "center": true,
          "vconcat": [
            {
              "width": 550, "height": 23,
              "view": {"fill": "#ababab", "stroke": null},
              "data": {"name": "ui"},
              "transform": [{"filter": "datum.p == 'C'"}],
              "layer": [
                {"mark": {"type": "text", "text": "Sample Editor", "x": 4, "y": 11.5, "fontSize": 13.5, "fill": "#f5f5f5"}, "encoding": {}},
                {"mark": {"type": "text", "text": "▾   ✕", "x": "width", "dx": -5, "y": 11.5, "align": "right", "fontSize": 13, "fill": "#f5f5f5"}, "encoding": {}}
              ]
            },
            {
              "spacing": 10,
              "hconcat": [
                {
                  "width": 261, "height": 25,
                  "view": {"fill": "#e3e3e3", "stroke": "#adadad"},
                  "title": {"text": "Active class"},
                  "data": {"name": "ui"},
                  "transform": [{"filter": "datum.p == 'C'"}],
                  "layer": [
                    {"mark": {"type": "text", "x": 5, "y": 12.5, "fontSize": 11.8, "fill": "#111111"}, "encoding": {"text": {"field": "active"}}},
                    {"mark": {"type": "text", "text": "∨", "x": "width", "dx": -14, "y": 12.5, "align": "center", "fontSize": 10, "fill": "#555555"}, "encoding": {}}
                  ]
                },
                {
                  "width": 260, "height": 25,
                  "view": {"fill": "#e3e3e3", "stroke": "#adadad"},
                  "title": {"text": "Compare class"},
                  "data": {"name": "ui"},
                  "transform": [{"filter": "datum.p == 'C'"}],
                  "layer": [
                    {"mark": {"type": "text", "x": 5, "y": 12.5, "fontSize": 11.8, "fill": "#111111"}, "encoding": {"text": {"field": "compare"}}},
                    {"mark": {"type": "text", "text": "∨", "x": "width", "dx": -14, "y": 12.5, "align": "center", "fontSize": 10, "fill": "#555555"}, "encoding": {}}
                  ]
                }
              ]
            },
            {
              "width": 541, "height": 385,
              "view": {"fill": "#ffffff", "stroke": "#2b2b2b", "strokeWidth": 2},
              "resolve": {"scale": {"x": "independent", "y": "independent"}, "axis": {"x": "independent", "y": "independent"}},
              "layer": [
                {"data": {"name": "forestRange"}, "transform": [{"filter": "datum.f == 'bright'"}], "mark": {"type": "line", "stroke": "#4b60c2"},
                 "encoding": {
                   "x": {"field": "x", "type": "quantitative", "scale": {"domain": [0, 41570], "range": [31, 364], "nice": false},
                         "axis": {"orient": "bottom", "offset": -330.6, "title": null, "values": [0, 5196.25, 10392.5, 15588.75, 20785, 25981.25, 31177.5, 36373.75, 41570], "labelExpr": "datum.value == 0 || datum.value == 41570 ? format(datum.value, 'd') : format(datum.value, '.1f')", "labelAlign": {"condition": {"test": "datum.value == 0", "value": "center"}, "value": "left"}, "labelOffset": {"condition": {"test": "datum.value == 0", "value": -2}, "value": -10}}},
                   "y": {"field": "y", "type": "quantitative", "scale": {"domain": [0, 1], "range": [54.4, 15.4], "nice": false}, "axis": {"orient": "left", "offset": -31, "title": null, "values": [0]}},
                   "order": {"field": "o", "type": "quantitative"}}},
                {"data": {"name": "curves"}, "transform": [{"filter": "datum.p == 'C' && datum.f == 'bright'"}], "mark": {"type": "line", "stroke": "#111111"},
                 "encoding": {"x": {"field": "x", "type": "quantitative", "scale": {"domain": [0, 41570], "range": [31, 364], "nice": false}, "axis": null}, "y": {"field": "y", "type": "quantitative", "scale": {"domain": [0, 1], "range": [54.4, 15.4], "nice": false}, "axis": null}, "order": {"field": "o", "type": "quantitative"}}},
                {"data": {"name": "info"}, "transform": [{"filter": "datum.p == 'C' && datum.f == 'bright'"}], "mark": {"type": "text", "dx": 25, "lineHeight": 17.8},
                 "encoding": {"x": {"datum": 41570, "type": "quantitative", "scale": {"domain": [0, 41570], "range": [31, 364], "nice": false}, "axis": null}, "y": {"datum": 1.01, "type": "quantitative", "scale": {"domain": [0, 1], "range": [54.4, 15.4], "nice": false}, "axis": null}, "text": {"field": "t"}}},

                {"data": {"name": "forestRange"}, "transform": [{"filter": "datum.f == 'ml2'"}], "mark": {"type": "line", "stroke": "#4b60c2"},
                 "encoding": {
                   "x": {"field": "x", "type": "quantitative", "scale": {"domain": [0, 44746], "range": [31, 364], "nice": false},
                         "axis": {"orient": "bottom", "offset": -253.3, "title": null, "values": [0, 5593.25, 11186.5, 16779.75, 22373, 27966.25, 33559.5, 39152.75, 44746], "labelExpr": "datum.value == 0 || datum.value == 44746 ? format(datum.value, 'd') : format(datum.value, '.1f')", "labelAlign": {"condition": {"test": "datum.value == 0", "value": "center"}, "value": "left"}, "labelOffset": {"condition": {"test": "datum.value == 0", "value": -2}, "value": -10}}},
                   "y": {"field": "y", "type": "quantitative", "scale": {"domain": [0, 1], "range": [131.7, 92.7], "nice": false}, "axis": {"orient": "left", "offset": -31, "title": null, "values": [0]}},
                   "order": {"field": "o", "type": "quantitative"}}},
                {"data": {"name": "curves"}, "transform": [{"filter": "datum.p == 'C' && datum.f == 'ml2'"}], "mark": {"type": "line", "stroke": "#111111"},
                 "encoding": {"x": {"field": "x", "type": "quantitative", "scale": {"domain": [0, 44746], "range": [31, 364], "nice": false}, "axis": null}, "y": {"field": "y", "type": "quantitative", "scale": {"domain": [0, 1], "range": [131.7, 92.7], "nice": false}, "axis": null}, "order": {"field": "o", "type": "quantitative"}}},
                {"data": {"name": "info"}, "transform": [{"filter": "datum.p == 'C' && datum.f == 'ml2'"}], "mark": {"type": "text", "dx": 25, "lineHeight": 17.8},
                 "encoding": {"x": {"datum": 44746, "type": "quantitative", "scale": {"domain": [0, 44746], "range": [31, 364], "nice": false}, "axis": null}, "y": {"datum": 1.01, "type": "quantitative", "scale": {"domain": [0, 1], "range": [131.7, 92.7], "nice": false}, "axis": null}, "text": {"field": "t"}}},

                {"data": {"name": "forestRange"}, "transform": [{"filter": "datum.f == 'ml1'"}], "mark": {"type": "line", "stroke": "#4b60c2"},
                 "encoding": {
                   "x": {"field": "x", "type": "quantitative", "scale": {"domain": [0, 46503], "range": [31, 364], "nice": false},
                         "axis": {"orient": "bottom", "offset": -176, "title": null, "values": [0, 5812.875, 11625.75, 17438.625, 23251.5, 29064.375, 34877.25, 40690.125, 46503], "labelExpr": "datum.value == 0 || datum.value == 46503 ? format(datum.value, 'd') : format(datum.value, '.1f')", "labelAlign": {"condition": {"test": "datum.value == 0", "value": "center"}, "value": "left"}, "labelOffset": {"condition": {"test": "datum.value == 0", "value": -2}, "value": -10}}},
                   "y": {"field": "y", "type": "quantitative", "scale": {"domain": [0, 1], "range": [209, 170], "nice": false}, "axis": {"orient": "left", "offset": -31, "title": null, "values": [0]}},
                   "order": {"field": "o", "type": "quantitative"}}},
                {"data": {"name": "curves"}, "transform": [{"filter": "datum.p == 'C' && datum.f == 'ml1'"}], "mark": {"type": "line", "stroke": "#111111"},
                 "encoding": {"x": {"field": "x", "type": "quantitative", "scale": {"domain": [0, 46503], "range": [31, 364], "nice": false}, "axis": null}, "y": {"field": "y", "type": "quantitative", "scale": {"domain": [0, 1], "range": [209, 170], "nice": false}, "axis": null}, "order": {"field": "o", "type": "quantitative"}}},
                {"data": {"name": "info"}, "transform": [{"filter": "datum.p == 'C' && datum.f == 'ml1'"}], "mark": {"type": "text", "dx": 25, "lineHeight": 17.8},
                 "encoding": {"x": {"datum": 46503, "type": "quantitative", "scale": {"domain": [0, 46503], "range": [31, 364], "nice": false}, "axis": null}, "y": {"datum": 1.01, "type": "quantitative", "scale": {"domain": [0, 1], "range": [209, 170], "nice": false}, "axis": null}, "text": {"field": "t"}}},

                {"data": {"name": "forestRange"}, "transform": [{"filter": "datum.f == 'maxdiff'"}], "mark": {"type": "line", "stroke": "#4b60c2"},
                 "encoding": {
                   "x": {"field": "x", "type": "quantitative", "scale": {"domain": [0, 3], "range": [31, 364], "nice": false},
                         "axis": {"orient": "bottom", "offset": -99.3, "title": null, "values": [0, 0.375, 0.75, 1.125, 1.5, 1.875, 2.25, 2.625, 3], "labelExpr": "datum.value == 0 || datum.value == 3 ? format(datum.value, 'd') : format(datum.value, '.2')", "labelAlign": {"condition": {"test": "datum.value == 0", "value": "center"}, "value": "left"}, "labelOffset": {"condition": [{"test": "datum.value == 0", "value": -2}, {"test": "datum.value == 3", "value": 2}], "value": -10}}},
                   "y": {"field": "y", "type": "quantitative", "scale": {"domain": [0, 1], "range": [285.7, 246.7], "nice": false}, "axis": {"orient": "left", "offset": -31, "title": null, "values": [0]}},
                   "order": {"field": "o", "type": "quantitative"}}},
                {"data": {"name": "curves"}, "transform": [{"filter": "datum.p == 'C' && datum.f == 'maxdiff'"}], "mark": {"type": "line", "stroke": "#111111"},
                 "encoding": {"x": {"field": "x", "type": "quantitative", "scale": {"domain": [0, 3], "range": [31, 364], "nice": false}, "axis": null}, "y": {"field": "y", "type": "quantitative", "scale": {"domain": [0, 1], "range": [285.7, 246.7], "nice": false}, "axis": null}, "order": {"field": "o", "type": "quantitative"}}},
                {"data": {"name": "info"}, "transform": [{"filter": "datum.p == 'C' && datum.f == 'maxdiff'"}], "mark": {"type": "text", "dx": 25, "lineHeight": 17.8},
                 "encoding": {"x": {"datum": 3, "type": "quantitative", "scale": {"domain": [0, 3], "range": [31, 364], "nice": false}, "axis": null}, "y": {"datum": 1.01, "type": "quantitative", "scale": {"domain": [0, 1], "range": [285.7, 246.7], "nice": false}, "axis": null}, "text": {"field": "t"}}},

                {"data": {"name": "forestRange"}, "transform": [{"filter": "datum.f == 'ndvi'"}], "mark": {"type": "line", "stroke": "#4b60c2"},
                 "encoding": {
                   "x": {"field": "x", "type": "quantitative", "scale": {"domain": [-1, 1], "range": [31, 364], "nice": false},
                         "axis": {"orient": "bottom", "offset": -22.3, "title": null, "values": [-1, -0.75, -0.5, -0.25, 0, 0.25, 0.5, 0.75, 1], "labelExpr": "datum.value == -1 ? '-1' : datum.value == 1 ? '1' : replace(format(datum.value, '.2f'), '\u2212', '-')", "labelAlign": {"condition": {"test": "datum.value == -1", "value": "center"}, "value": "left"}, "labelOffset": {"condition": [{"test": "datum.value == -1", "value": 0}, {"test": "datum.value == 1", "value": 1}], "value": -10}}},
                   "y": {"field": "y", "type": "quantitative", "scale": {"domain": [0, 1], "range": [362.7, 323.7], "nice": false}, "axis": {"orient": "left", "offset": -31, "title": null, "values": [0]}},
                   "order": {"field": "o", "type": "quantitative"}}},
                {"data": {"name": "curves"}, "transform": [{"filter": "datum.p == 'C' && datum.f == 'ndvi'"}], "mark": {"type": "line", "stroke": "#111111"},
                 "encoding": {"x": {"field": "x", "type": "quantitative", "scale": {"domain": [-1, 1], "range": [31, 364], "nice": false}, "axis": null}, "y": {"field": "y", "type": "quantitative", "scale": {"domain": [0, 1], "range": [362.7, 323.7], "nice": false}, "axis": null}, "order": {"field": "o", "type": "quantitative"}}},
                {"data": {"name": "info"}, "transform": [{"filter": "datum.p == 'C' && datum.f == 'ndvi'"}], "mark": {"type": "text", "dx": 25, "lineHeight": 17.8},
                 "encoding": {"x": {"datum": 1, "type": "quantitative", "scale": {"domain": [-1, 1], "range": [31, 364], "nice": false}, "axis": null}, "y": {"datum": 1.01, "type": "quantitative", "scale": {"domain": [0, 1], "range": [362.7, 323.7], "nice": false}, "axis": null}, "text": {"field": "t"}}}
              ]
            }
          ]
        },
        {
          "spacing": 5,
          "center": true,
          "vconcat": [
            {
              "width": 542, "height": 23,
              "view": {"fill": "#ababab", "stroke": null},
              "data": {"name": "ui"},
              "transform": [{"filter": "datum.p == 'D'"}],
              "layer": [
                {"mark": {"type": "text", "text": "Sample Editor", "x": 4, "y": 11.5, "fontSize": 13.5, "fill": "#f5f5f5"}, "encoding": {}},
                {"mark": {"type": "text", "text": "▾   ✕", "x": "width", "dx": -5, "y": 11.5, "align": "right", "fontSize": 13, "fill": "#f5f5f5"}, "encoding": {}}
              ]
            },
            {
              "spacing": 10,
              "hconcat": [
                {
                  "width": 260, "height": 25,
                  "view": {"fill": "#e3e3e3", "stroke": "#adadad"},
                  "title": {"text": "Active class"},
                  "data": {"name": "ui"},
                  "transform": [{"filter": "datum.p == 'D'"}],
                  "layer": [
                    {"mark": {"type": "text", "x": 5, "y": 12.5, "fontSize": 11.8, "fill": "#111111"}, "encoding": {"text": {"field": "active"}}},
                    {"mark": {"type": "text", "text": "∨", "x": "width", "dx": -14, "y": 12.5, "align": "center", "fontSize": 10, "fill": "#555555"}, "encoding": {}}
                  ]
                },
                {
                  "width": 259, "height": 25,
                  "view": {"fill": "#e3e3e3", "stroke": "#adadad"},
                  "title": {"text": "Compare class"},
                  "data": {"name": "ui"},
                  "transform": [{"filter": "datum.p == 'D'"}],
                  "layer": [
                    {"mark": {"type": "text", "x": 5, "y": 12.5, "fontSize": 11.8, "fill": "#111111"}, "encoding": {"text": {"field": "compare"}}},
                    {"mark": {"type": "text", "text": "∨", "x": "width", "dx": -14, "y": 12.5, "align": "center", "fontSize": 10, "fill": "#555555"}, "encoding": {}}
                  ]
                }
              ]
            },
            {
              "width": 536, "height": 385,
              "view": {"fill": "#ffffff", "stroke": "#2b2b2b", "strokeWidth": 2},
              "resolve": {"scale": {"x": "independent", "y": "independent"}, "axis": {"x": "independent", "y": "independent"}},
              "layer": [
                {"data": {"name": "forestRange"}, "transform": [{"filter": "datum.f == 'bright'"}], "mark": {"type": "line", "stroke": "#4b60c2"},
                 "encoding": {
                   "x": {"field": "x", "type": "quantitative", "scale": {"domain": [0, 41570], "range": [30.3, 350.3], "nice": false},
                         "axis": {"orient": "bottom", "offset": -331.6, "title": null, "values": [0, 5196.25, 10392.5, 15588.75, 20785, 25981.25, 31177.5, 36373.75, 41570], "labelExpr": "datum.value == 0 || datum.value == 41570 ? format(datum.value, 'd') : format(datum.value, '.1f')", "labelAlign": {"condition": {"test": "datum.value == 0", "value": "center"}, "value": "left"}, "labelOffset": {"condition": {"test": "datum.value == 0", "value": -2}, "value": -10}}},
                   "y": {"field": "y", "type": "quantitative", "scale": {"domain": [0, 1], "range": [53.4, 15.4], "nice": false}, "axis": {"orient": "left", "offset": -30.3, "title": null, "values": [0]}},
                   "order": {"field": "o", "type": "quantitative"}}},
                {"data": {"name": "curves"}, "transform": [{"filter": "datum.p == 'D' && datum.f == 'bright'"}], "mark": {"type": "line", "stroke": "#111111"},
                 "encoding": {"x": {"field": "x", "type": "quantitative", "scale": {"domain": [0, 41570], "range": [30.3, 350.3], "nice": false}, "axis": null}, "y": {"field": "y", "type": "quantitative", "scale": {"domain": [0, 1], "range": [53.4, 15.4], "nice": false}, "axis": null}, "order": {"field": "o", "type": "quantitative"}}},
                {"data": {"name": "info"}, "transform": [{"filter": "datum.p == 'D' && datum.f == 'bright'"}], "mark": {"type": "text", "dx": 25, "lineHeight": 17.3},
                 "encoding": {"x": {"datum": 41570, "type": "quantitative", "scale": {"domain": [0, 41570], "range": [30.3, 350.3], "nice": false}, "axis": null}, "y": {"datum": 1.04, "type": "quantitative", "scale": {"domain": [0, 1], "range": [53.4, 15.4], "nice": false}, "axis": null}, "text": {"field": "t"}}},

                {"data": {"name": "forestRange"}, "transform": [{"filter": "datum.f == 'ml2'"}], "mark": {"type": "line", "stroke": "#4b60c2"},
                 "encoding": {
                   "x": {"field": "x", "type": "quantitative", "scale": {"domain": [0, 44746], "range": [30.3, 350.3], "nice": false},
                         "axis": {"orient": "bottom", "offset": -256, "title": null, "values": [0, 5593.25, 11186.5, 16779.75, 22373, 27966.25, 33559.5, 39152.75, 44746], "labelExpr": "datum.value == 0 || datum.value == 44746 ? format(datum.value, 'd') : format(datum.value, '.1f')", "labelAlign": {"condition": {"test": "datum.value == 0", "value": "center"}, "value": "left"}, "labelOffset": {"condition": {"test": "datum.value == 0", "value": -2}, "value": -10}}},
                   "y": {"field": "y", "type": "quantitative", "scale": {"domain": [0, 1], "range": [129, 91], "nice": false}, "axis": {"orient": "left", "offset": -30.3, "title": null, "values": [0]}},
                   "order": {"field": "o", "type": "quantitative"}}},
                {"data": {"name": "curves"}, "transform": [{"filter": "datum.p == 'D' && datum.f == 'ml2'"}], "mark": {"type": "line", "stroke": "#111111"},
                 "encoding": {"x": {"field": "x", "type": "quantitative", "scale": {"domain": [0, 44746], "range": [30.3, 350.3], "nice": false}, "axis": null}, "y": {"field": "y", "type": "quantitative", "scale": {"domain": [0, 1], "range": [129, 91], "nice": false}, "axis": null}, "order": {"field": "o", "type": "quantitative"}}},
                {"data": {"name": "info"}, "transform": [{"filter": "datum.p == 'D' && datum.f == 'ml2'"}], "mark": {"type": "text", "dx": 25, "lineHeight": 17.3},
                 "encoding": {"x": {"datum": 44746, "type": "quantitative", "scale": {"domain": [0, 44746], "range": [30.3, 350.3], "nice": false}, "axis": null}, "y": {"datum": 1.04, "type": "quantitative", "scale": {"domain": [0, 1], "range": [129, 91], "nice": false}, "axis": null}, "text": {"field": "t"}}},

                {"data": {"name": "forestRange"}, "transform": [{"filter": "datum.f == 'ml1'"}], "mark": {"type": "line", "stroke": "#4b60c2"},
                 "encoding": {
                   "x": {"field": "x", "type": "quantitative", "scale": {"domain": [0, 46503], "range": [30.3, 350.3], "nice": false},
                         "axis": {"orient": "bottom", "offset": -180.6, "title": null, "values": [0, 5812.875, 11625.75, 17438.625, 23251.5, 29064.375, 34877.25, 40690.125, 46503], "labelExpr": "datum.value == 0 || datum.value == 46503 ? format(datum.value, 'd') : format(datum.value, '.1f')", "labelAlign": {"condition": {"test": "datum.value == 0", "value": "center"}, "value": "left"}, "labelOffset": {"condition": {"test": "datum.value == 0", "value": -2}, "value": -10}}},
                   "y": {"field": "y", "type": "quantitative", "scale": {"domain": [0, 1], "range": [204.4, 166.4], "nice": false}, "axis": {"orient": "left", "offset": -30.3, "title": null, "values": [0]}},
                   "order": {"field": "o", "type": "quantitative"}}},
                {"data": {"name": "curves"}, "transform": [{"filter": "datum.p == 'D' && datum.f == 'ml1'"}], "mark": {"type": "line", "stroke": "#111111"},
                 "encoding": {"x": {"field": "x", "type": "quantitative", "scale": {"domain": [0, 46503], "range": [30.3, 350.3], "nice": false}, "axis": null}, "y": {"field": "y", "type": "quantitative", "scale": {"domain": [0, 1], "range": [204.4, 166.4], "nice": false}, "axis": null}, "order": {"field": "o", "type": "quantitative"}}},
                {"data": {"name": "info"}, "transform": [{"filter": "datum.p == 'D' && datum.f == 'ml1'"}], "mark": {"type": "text", "dx": 25, "lineHeight": 17.3},
                 "encoding": {"x": {"datum": 46503, "type": "quantitative", "scale": {"domain": [0, 46503], "range": [30.3, 350.3], "nice": false}, "axis": null}, "y": {"datum": 1.04, "type": "quantitative", "scale": {"domain": [0, 1], "range": [204.4, 166.4], "nice": false}, "axis": null}, "text": {"field": "t"}}},

                {"data": {"name": "forestRange"}, "transform": [{"filter": "datum.f == 'maxdiff'"}], "mark": {"type": "line", "stroke": "#4b60c2"},
                 "encoding": {
                   "x": {"field": "x", "type": "quantitative", "scale": {"domain": [0, 3], "range": [30.3, 350.3], "nice": false},
                         "axis": {"orient": "bottom", "offset": -105, "title": null, "values": [0, 0.375, 0.75, 1.125, 1.5, 1.875, 2.25, 2.625, 3], "labelExpr": "datum.value == 0 || datum.value == 3 ? format(datum.value, 'd') : format(datum.value, '.2')", "labelAlign": {"condition": {"test": "datum.value == 0", "value": "center"}, "value": "left"}, "labelOffset": {"condition": [{"test": "datum.value == 0", "value": -2}, {"test": "datum.value == 3", "value": 2}], "value": -10}}},
                   "y": {"field": "y", "type": "quantitative", "scale": {"domain": [0, 1], "range": [280, 242], "nice": false}, "axis": {"orient": "left", "offset": -30.3, "title": null, "values": [0]}},
                   "order": {"field": "o", "type": "quantitative"}}},
                {"data": {"name": "curves"}, "transform": [{"filter": "datum.p == 'D' && datum.f == 'maxdiff'"}], "mark": {"type": "line", "stroke": "#111111"},
                 "encoding": {"x": {"field": "x", "type": "quantitative", "scale": {"domain": [0, 3], "range": [30.3, 350.3], "nice": false}, "axis": null}, "y": {"field": "y", "type": "quantitative", "scale": {"domain": [0, 1], "range": [280, 242], "nice": false}, "axis": null}, "order": {"field": "o", "type": "quantitative"}}},
                {"data": {"name": "info"}, "transform": [{"filter": "datum.p == 'D' && datum.f == 'maxdiff'"}], "mark": {"type": "text", "dx": 25, "lineHeight": 17.3},
                 "encoding": {"x": {"datum": 3, "type": "quantitative", "scale": {"domain": [0, 3], "range": [30.3, 350.3], "nice": false}, "axis": null}, "y": {"datum": 1.04, "type": "quantitative", "scale": {"domain": [0, 1], "range": [280, 242], "nice": false}, "axis": null}, "text": {"field": "t"}}},

                {"data": {"name": "forestRange"}, "transform": [{"filter": "datum.f == 'ndvi'"}], "mark": {"type": "line", "stroke": "#4b60c2"},
                 "encoding": {
                   "x": {"field": "x", "type": "quantitative", "scale": {"domain": [-1, 1], "range": [30.3, 350.3], "nice": false},
                         "axis": {"orient": "bottom", "offset": -29, "title": null, "values": [-1, -0.75, -0.5, -0.25, 0, 0.25, 0.5, 0.75, 1], "labelExpr": "datum.value == -1 ? '-1' : datum.value == 1 ? '1' : replace(format(datum.value, '.2f'), '\u2212', '-')", "labelAlign": {"condition": {"test": "datum.value == -1", "value": "center"}, "value": "left"}, "labelOffset": {"condition": [{"test": "datum.value == -1", "value": 0}, {"test": "datum.value == 1", "value": 1}], "value": -10}}},
                   "y": {"field": "y", "type": "quantitative", "scale": {"domain": [0, 1], "range": [356, 318], "nice": false}, "axis": {"orient": "left", "offset": -30.3, "title": null, "values": [0]}},
                   "order": {"field": "o", "type": "quantitative"}}},
                {"data": {"name": "curves"}, "transform": [{"filter": "datum.p == 'D' && datum.f == 'ndvi'"}], "mark": {"type": "line", "stroke": "#111111"},
                 "encoding": {"x": {"field": "x", "type": "quantitative", "scale": {"domain": [-1, 1], "range": [30.3, 350.3], "nice": false}, "axis": null}, "y": {"field": "y", "type": "quantitative", "scale": {"domain": [0, 1], "range": [356, 318], "nice": false}, "axis": null}, "order": {"field": "o", "type": "quantitative"}}},
                {"data": {"name": "info"}, "transform": [{"filter": "datum.p == 'D' && datum.f == 'ndvi'"}], "mark": {"type": "text", "dx": 25, "lineHeight": 17.3},
                 "encoding": {"x": {"datum": 1, "type": "quantitative", "scale": {"domain": [-1, 1], "range": [30.3, 350.3], "nice": false}, "axis": null}, "y": {"datum": 1.04, "type": "quantitative", "scale": {"domain": [0, 1], "range": [356, 318], "nice": false}, "axis": null}, "text": {"field": "t"}}}
              ]
            }
          ]
        }
      ]
    }
  ]
}
